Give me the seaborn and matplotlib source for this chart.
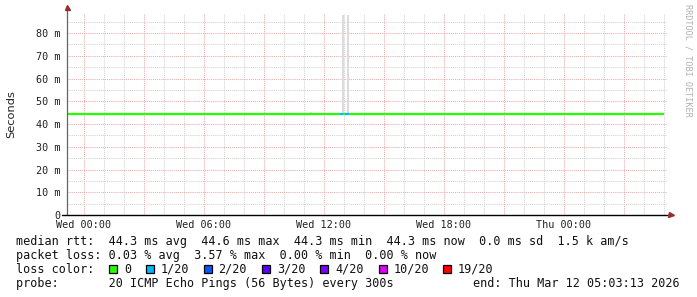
import matplotlib
matplotlib.use("Agg")
import matplotlib.pyplot as plt
from matplotlib.patches import Rectangle
import seaborn as sns
import pandas as pd

# ---------------- data ----------------
# median rtt segments (hours relative to Wed 00:00), value in ms, loss class
seg_start = [-0.83, 12.825, 12.975, 13.075, 13.275, 13.775]
seg_end = [12.825, 12.975, 13.075, 13.275, 13.775, 29.03]
seg_median_ms = [44.3, 44.3, 44.3, 44.3, 44.6, 44.3]
seg_loss = ["0", "1/20", "0", "1/20", "0", "0"]

# smoke (spread of individual pings)
smoke_time = [11.375, 12.975, 13.225]
smoke_low = [44.3, 44.3, 44.3]
smoke_high = [45.4, 88.0, 88.0]

loss_labels = ["0", "1/20", "2/20", "3/20", "4/20", "10/20", "19/20"]
loss_colors = ["#26ff00", "#00b8ff", "#0059ff", "#5e00ff", "#7e00ff", "#dd00ff", "#ff0000"]

y_ticks = [0, 10, 20, 30, 40, 50, 60, 70, 80]
y_tick_labels = ["0", "10 m", "20 m", "30 m", "40 m", "50 m", "60 m", "70 m", "80 m"]
x_ticks = [0, 6, 12, 18, 24]
x_tick_labels = ["Wed 00:00", "Wed 06:00", "Wed 12:00", "Wed 18:00", "Thu 00:00"]

stats_lines = [
    "median rtt:  44.3 ms avg  44.6 ms max  44.3 ms min  44.3 ms now  0.0 ms sd  1.5 k am/s",
    "packet loss: 0.03 % avg  3.57 % max  0.00 % min  0.00 % now",
]
probe_text = "probe:       20 ICMP Echo Pings (56 Bytes) every 300s"
end_text = "end: Thu Mar 12 05:03:13 2026"

# ---------------- layout ----------------
W, H = 697, 297
def fx(px):
    return px / W
def fy(py):
    return 1 - py / H

sns.set_theme(style="white")
plt.rcParams["font.family"] = ["DejaVu Sans Mono", "DejaVu Sans"]

fig = plt.figure(figsize=(W / 100, H / 100), dpi=100)
fig.patch.set_facecolor("white")
ax = fig.add_axes([fx(67), fy(215), 600 / W, 202 / H])
ax.set_facecolor("white")
ax.set_xlim(-0.825, 29.175)
ax.set_ylim(0, 88.8)

minor_col = "#d2d2d2"
major_col = "#eeaaaa"
dot = (0, (1, 1))
lw1 = 0.75
for h in range(0, 30):
    if h % 3 != 0:
        ax.axvline(h, color=minor_col, lw=lw1, ls=dot, zorder=0)
for h in range(0, 30, 3):
    ax.axvline(h, color=major_col, lw=lw1, ls=dot, zorder=0)
for v in range(5, 90, 10):
    ax.axhline(v, color=minor_col, lw=lw1, ls=dot, zorder=0)
for v in y_ticks[1:]:
    ax.axhline(v, color=major_col, lw=lw1, ls=dot, zorder=0)

# smoke
ax.bar(smoke_time, [h - l for h, l in zip(smoke_high, smoke_low)], bottom=smoke_low,
       width=0.12, color="#dcdcdc", linewidth=0, zorder=1)

# median line segments
rows = []
for i, (s, e, m, l) in enumerate(zip(seg_start, seg_end, seg_median_ms, seg_loss)):
    rows.append({"seg": i, "t": s, "ms": m, "loss": l})
    rows.append({"seg": i, "t": e, "ms": m, "loss": l})
df = pd.DataFrame(rows)
sns.lineplot(data=df, x="t", y="ms", hue="loss", units="seg", estimator=None,
             palette=dict(zip(loss_labels, loss_colors)), linewidth=1.6,
             legend=False, ax=ax, zorder=3, solid_capstyle="butt")
ax.set_xlabel("")
ax.set_ylabel("")

# axes lines and arrows
for sp in ax.spines.values():
    sp.set_visible(False)
ax.plot([0, 0], [0, 1.02], color="#666666", lw=0.9, transform=ax.transAxes, clip_on=False, zorder=4)
ax.plot([-0.008, 1.003], [0, 0], color="black", lw=1.0, transform=ax.transAxes, clip_on=False, zorder=4)
ax.plot([0], [1.03], marker="^", ms=3.6, color="#9b2c2c", transform=ax.transAxes, clip_on=False, zorder=5)
ax.plot([1.006], [0], marker=">", ms=3.6, color="#9b2c2c", transform=ax.transAxes, clip_on=False, zorder=5)

ax.set_yticks(y_ticks)
ax.set_yticklabels(y_tick_labels)
ax.set_xticks(x_ticks)
ax.set_xticklabels(x_tick_labels)
ax.tick_params(axis="both", length=0, labelsize=7.3, colors="#222222")
ax.tick_params(axis="y", pad=5)
ax.tick_params(axis="x", pad=3.5)

fig.text(fx(11), fy(114), "Seconds", rotation=90, ha="center", va="center",
         fontsize=8.2, family="DejaVu Sans", color="#222222")
fig.text(fx(688), fy(60), "RRDTOOL / TOBI OETIKER", rotation=-90, ha="center", va="center",
         fontsize=6.1, color="#b0b0b0")

fs = 8.5
baselines = [245, 259, 273, 287]
for line, b in zip(stats_lines, baselines[:2]):
    fig.text(fx(16), fy(b), line, ha="left", va="baseline", fontsize=fs, color="#111111")
fig.text(fx(16), fy(baselines[2]), "loss color:", ha="left", va="baseline", fontsize=fs, color="#111111")
box_px = [109, 146, 203.5, 262, 320, 378.5, 442.5]
for px, lab, col in zip(box_px, loss_labels, loss_colors):
    fig.patches.append(Rectangle((fx(px), fy(273)), 8 / W, 8 / H, transform=fig.transFigure,
                                 facecolor=col, edgecolor="black", lw=0.9))
    fig.text(fx(px + 15), fy(baselines[2]), lab, ha="left", va="baseline", fontsize=fs, color="#111111")
fig.text(fx(16), fy(baselines[3]), probe_text, ha="left", va="baseline", fontsize=fs, color="#111111")
fig.text(fx(680), fy(baselines[3]), end_text, ha="right", va="baseline", fontsize=fs, color="#111111")

fig.savefig("out.png", dpi=100, facecolor="white")
